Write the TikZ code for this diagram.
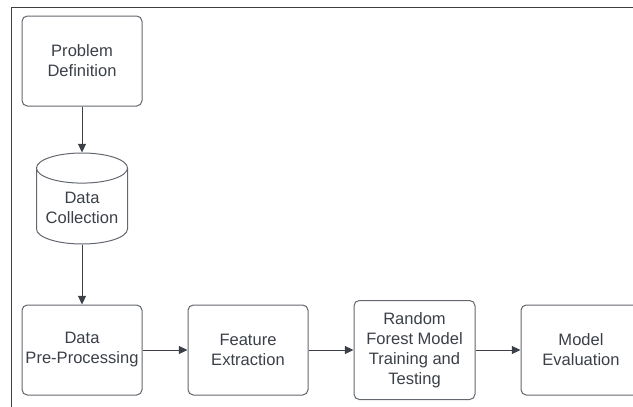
\documentclass[tikz,border=0pt]{standalone}
\usepackage{fontspec}
\setmainfont{Liberation Sans}
\usepackage{xcolor}
\usetikzlibrary{positioning,shapes.geometric,arrows.meta}
\definecolor{txtgray}{HTML}{3B4048}
\definecolor{boxgray}{HTML}{63676E}
\definecolor{framegray}{HTML}{3E3E3E}

\begin{document}
\begin{tikzpicture}[x=0.75pt, y=-0.75pt, node distance=33.75pt, >={Triangle[length=6.5pt,width=6pt]},
  every node/.style={font=\fontsize{12.4}{15}\selectfont, text=txtgray}]
  \tikzstyle{stage}=[draw=boxgray, line width=0.75pt, rounded corners=4pt, fill=white, minimum width=90pt, minimum height=67.5pt, align=center, inner sep=1pt]
  \tikzstyle{store}=[draw=boxgray, line width=0.75pt, cylinder, shape border rotate=90, aspect=0.4, minimum width=68.25pt, minimum height=68.25pt, align=center, inner sep=1pt]
  \tikzstyle{flow}=[->, line width=0.75pt, draw=txtgray, fill=txtgray]
  \useasboundingbox (0,0) rectangle (633,407);
  % frame
  \draw[framegray, line width=1.1pt] (11.5,407) -- (11.5,7.5) -- (640,7.5);
  \node[stage] (problem) at (82,61) {Problem\\Definition};
  \node[store, below=34.5pt of problem] (collect) {Data\\Collection};
  \node[stage, below=45pt of collect] (prep) {Data\\Pre-Processing};
  \node[stage, right=of prep] (feature) {Feature\\Extraction};
  \node[stage, right=of feature, minimum width=90.75pt, minimum height=74.25pt] (forest) {Random\\Forest Model\\Training and\\Testing};
  \node[stage, right=of forest] (evaluate) {Model\\Evaluation};
  \draw[flow] (problem.south) -- (collect.north);
  \draw[flow] (collect.south) -- (prep.north);
  \draw[flow] (prep.east) -- (feature.west);
  \draw[flow] (feature.east) -- (forest.west);
  \draw[flow] (forest.east) -- (evaluate.west);
\end{tikzpicture}
\end{document}
